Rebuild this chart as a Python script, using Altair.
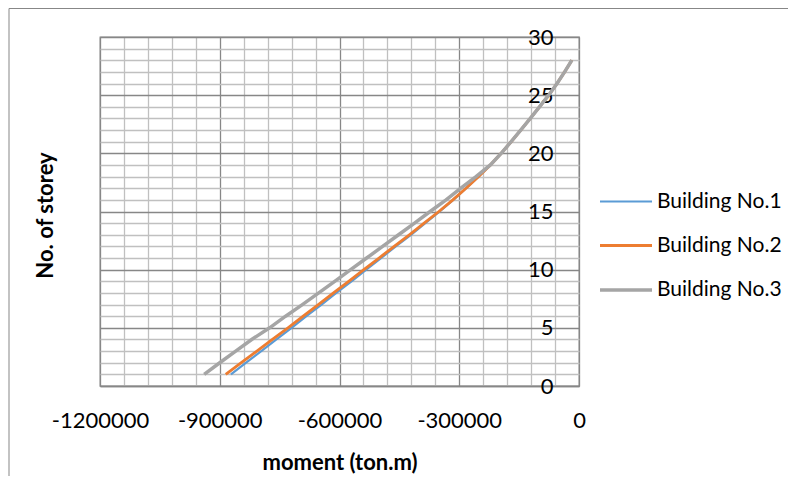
import altair as alt
import pandas as pd

# ---- data ----
storeys = list(range(1, 29))

building1 = [-872000, -834000, -796000, -758000, -720000, -683000, -645000, -608000,
             -570000, -533000, -496000, -459000, -421000, -385000, -349000, -315000,
             -283000, -252000, -222000, -195000, -170000, -146000, -122000, -99000,
             -76000, -55000, -36000, -18000]
building2 = [-885000, -846000, -807000, -768000, -729000, -691000, -653000, -615000,
             -577000, -539000, -501000, -463000, -425000, -388000, -351000, -316000,
             -283000, -252000, -222000, -195000, -170000, -146000, -122000, -99000,
             -76000, -55000, -36000, -18000]
building3 = [-939000, -900000, -860000, -820000, -775000, -735000, -693000, -652000,
             -612000, -572000, -532000, -492000, -452000, -412000, -373000, -333000,
             -296000, -258000, -222000, -195000, -170000, -146000, -122000, -99000,
             -76000, -55000, -36000, -18000]

series_names = ["Building No.1", "Building No.2", "Building No.3"]
series_colors = ["#5B9BD5", "#ED7D31", "#A5A5A5"]
series_widths = [2.2, 3.5, 4.5]

x_ticks = list(range(-1200000, 1, 60000))   # minor grid every 60000, labels every 300000
y_ticks = list(range(0, 31))                # minor grid every 1, labels every 5

rows = []
for name, vals in zip(series_names, [building1, building2, building3]):
    for s, v in zip(storeys, vals):
        rows.append({"building": name, "storey": s, "moment": v})
df = pd.DataFrame(rows)

FONT = "Lato"
W, H = 479, 349

legend_cfg = dict(
    orient="none", legendX=511, legendY=150, title=None,
    labelFont=FONT, labelFontSize=21, labelColor="#000000",
    symbolType="M-2,0L2,0", symbolSize=676, symbolStrokeWidth=3,
    labelOffset=16, rowPadding=19, padding=0,
)

lines = alt.Chart(df).mark_line(clip=False).encode(
    x=alt.X("moment:Q",
            scale=alt.Scale(domain=[-1200000, 0], nice=False, zero=False),
            axis=alt.Axis(
                values=x_ticks, orient="bottom",
                labelExpr="datum.value % 300000 === 0 ? '' + datum.value : ''",
                labelFont=FONT, labelFontSize=22, labelColor="#000000",
                labelPadding=24, labelFlush=False, labelOverlap=False,
                ticks=False, tickSize=0,
                domain=True, domainColor="#878787", domainWidth=1.3,
                grid=True,
                gridColor=alt.condition("datum.value % 300000 === 0",
                                        alt.value("#878787"), alt.value("#C0C0C0")),
                gridWidth=1.3,
                title="moment (ton.m)", titleFont=FONT, titleFontSize=22,
                titleFontWeight="bold", titleColor="#000000",
                titleX=239.5, titleY=76, titleBaseline="middle", titleAlign="center",
            )),
    y=alt.Y("storey:Q",
            scale=alt.Scale(domain=[0, 30], nice=False),
            axis=alt.Axis(
                values=y_ticks, orient="left",
                labelExpr="datum.value % 5 === 0 ? datum.label : ''",
                labelFont=FONT, labelFontSize=22, labelColor="#000000",
                labelAlign="right", labelBaseline="middle",
                labelPadding=-453, labelFlush=False, labelOverlap=False,
                ticks=False, tickSize=0, domain=False,
                grid=True,
                gridColor=alt.condition("datum.value % 5 === 0",
                                        alt.value("#878787"), alt.value("#C0C0C0")),
                gridWidth=1.3,
                title="No. of storey", titleFont=FONT, titleFontSize=22,
                titleFontWeight="bold", titleColor="#000000",
                titleX=-55, titleY=178, titleAngle=270,
                titleAlign="center", titleBaseline="middle",
            )),
    color=alt.Color("building:N",
                    scale=alt.Scale(domain=series_names, range=series_colors),
                    legend=alt.Legend(**legend_cfg)),
    strokeWidth=alt.StrokeWidth("building:N",
                                scale=alt.Scale(domain=series_names, range=series_widths),
                                legend=None),
    order="storey:Q",
)

frame_df = pd.DataFrame({"k": [0]})
frame_top = alt.Chart(frame_df).mark_rule(color="#878787", strokeWidth=1, clip=False).encode(
    x=alt.value(-91), x2=alt.value(700), y=alt.value(-28.5))
frame_left = alt.Chart(frame_df).mark_rule(color="#878787", strokeWidth=1, clip=False).encode(
    x=alt.value(-91), y=alt.value(-28.5), y2=alt.value(470))

chart = alt.layer(lines, frame_top, frame_left).properties(
    width=W, height=H,
    padding={"left": 92, "top": 29, "right": 209, "bottom": 90},
    autosize=alt.AutoSizeParams(type="none"),
).configure_view(stroke="#878787", strokeWidth=1.3)

chart.save("out.html", embed_options={"renderer": "svg", "actions": False})
